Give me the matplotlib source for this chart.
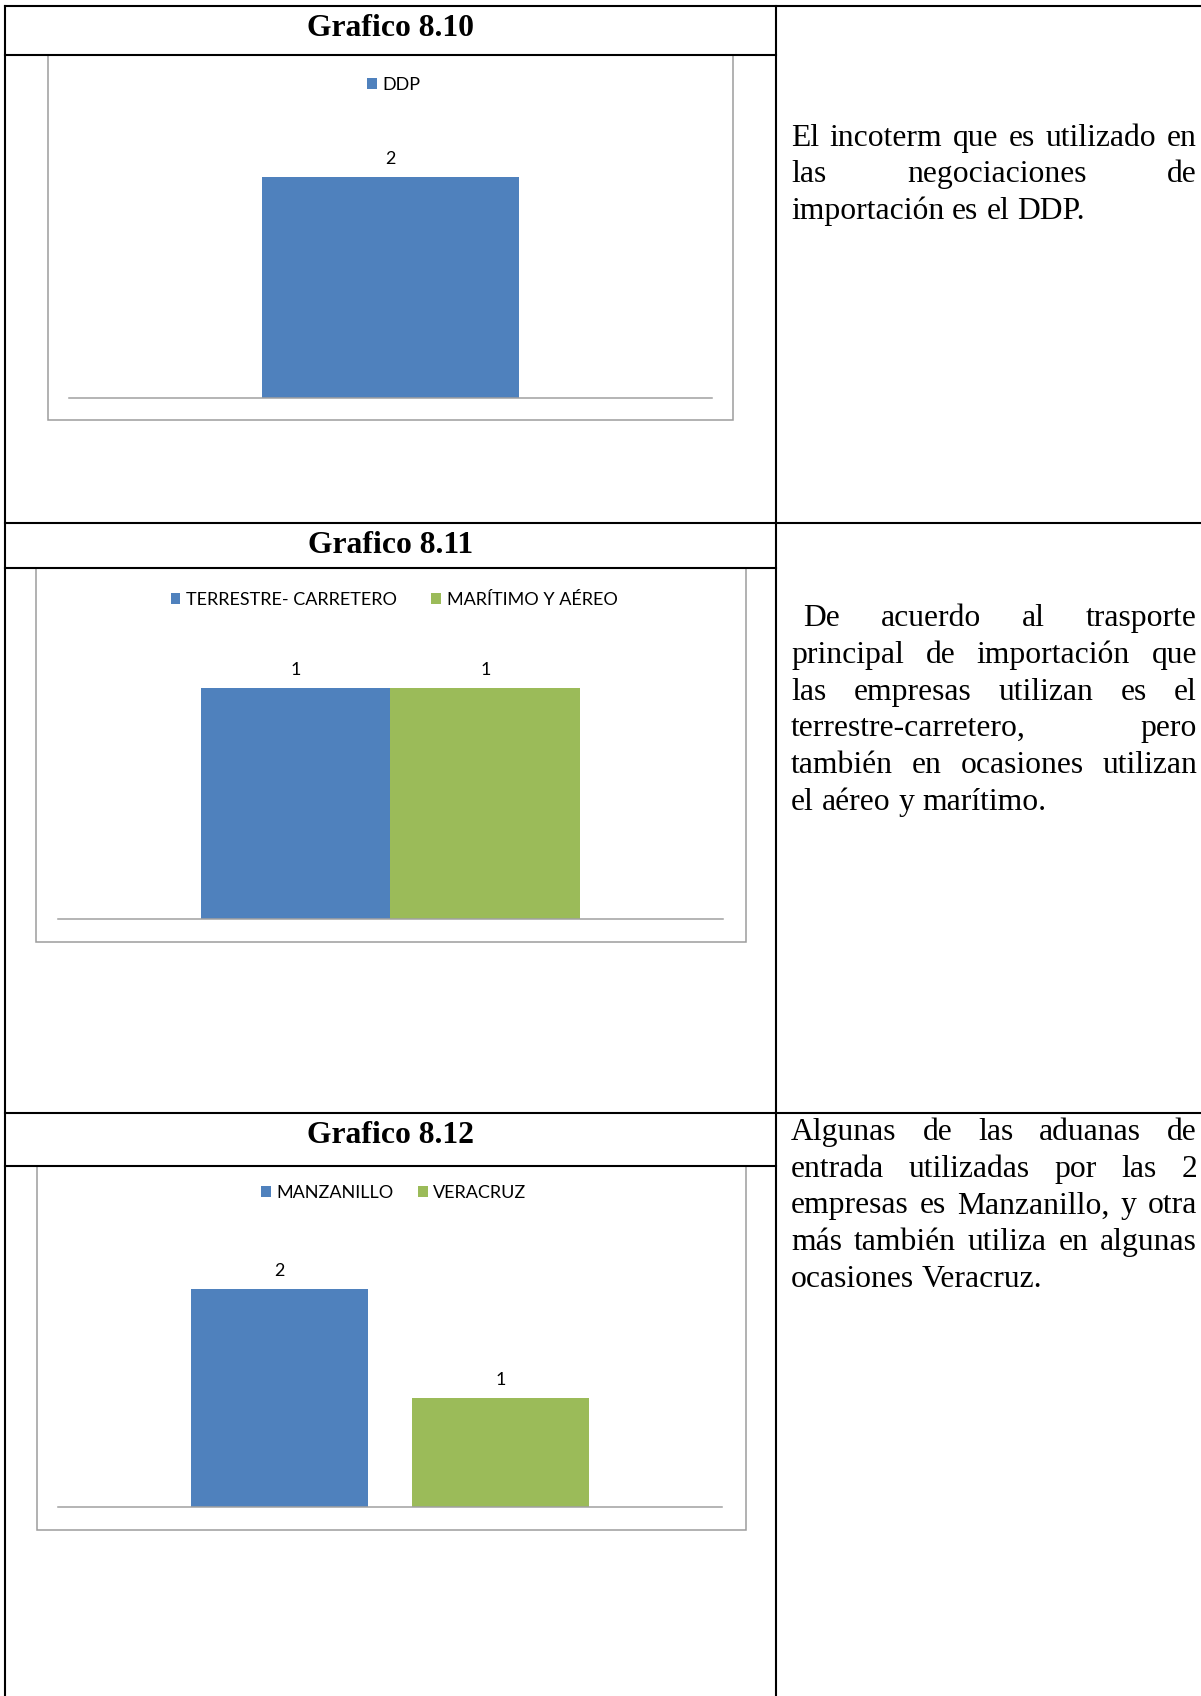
import matplotlib
matplotlib.use('Agg')
import matplotlib.pyplot as plt
from matplotlib.lines import Line2D
from matplotlib.patches import Rectangle

# chart data
titles = ['Grafico 8.10', 'Grafico 8.11', 'Grafico 8.12']
g810_labels = ['DDP']
g810_values = [2]
g811_labels = ['TERRESTRE- CARRETERO', 'MARÍTIMO Y AÉREO']
g811_values = [1, 1]
g812_labels = ['MANZANILLO', 'VERACRUZ']
g812_values = [2, 1]

# comments in the right column, one entry per printed line
p810 = ['El incoterm que es utilizado en',
        'las negociaciones de',
        'importación es el DDP.']
p811 = [' De acuerdo al trasporte',
        'principal de importación que',
        'las empresas utilizan es el',
        'terrestre-carretero, pero',
        'también en ocasiones utilizan',
        'el aéreo y marítimo.']
p812 = ['Algunas de las aduanas de',
        'entrada utilizadas por las 2',
        'empresas es Manzanillo, y otra',
        'más también utiliza en algunas',
        'ocasiones Veracruz.']

colors = ['#4F81BD', '#9BBB59']

W, H = 1201, 1696


def fx(x):
    return x / W


def fy(y):
    return 1 - y / H


fig = plt.figure(figsize=(W / 100, H / 100), dpi=100)
fig.patch.set_facecolor('white')
renderer = fig.canvas.get_renderer()

serif = 'Liberation Serif'
body_size = 22.8
chart_font = 'Lato'
chart_size = 13


def hline(y, x0, x1):
    fig.add_artist(Line2D([fx(x0), fx(x1)], [fy(y), fy(y)], color='black',
                          lw=1.5, zorder=10, solid_capstyle='projecting'))


def vline(x, y0, y1):
    fig.add_artist(Line2D([fx(x), fx(x)], [fy(y0), fy(y1)], color='black',
                          lw=1.5, zorder=10, solid_capstyle='projecting'))


# table grid
hline(5.7, 5, W + 5)
hline(523.2, 5, W + 5)
hline(1113.2, 5, W + 5)
for y in [54.5, 568.2, 1165.8]:
    hline(y, 5, 776)
vline(5, 5.7, H + 5)
vline(776, 5.7, H + 5)

# titles
for t, base in zip(titles, [35.7, 553, 1143]):
    fig.text(fx(390.5), fy(base), t, fontsize=body_size, family=serif,
             fontweight='bold', ha='center', va='baseline')


def word_width(word):
    t = fig.text(0, 0, word, fontsize=body_size, family=serif)
    w = t.get_window_extent(renderer).width
    t.remove()
    return w


def justified(lines, first_base, left=791, right=1197, step=36.7):
    space = word_width('a a') - word_width('aa')
    for i, line in enumerate(lines):
        base = first_base + i * step
        lead = len(line) - len(line.lstrip(' '))
        words = line.split()
        widths = [word_width(w) for w in words]
        x = left + lead * 12
        last = i == len(lines) - 1
        if last or len(words) == 1:
            gap = space
        else:
            gap = (right - x - sum(widths)) / (len(words) - 1)
        for w, wd in zip(words, widths):
            fig.text(fx(x), fy(base), w, fontsize=body_size, family=serif,
                     ha='left', va='baseline')
            x += wd + gap


justified(p810, 145.7)
justified(p811, 626.2)
justified(p812, 1140)


def chart(labels, values, frame, axbox, ymax, overlap, legend_xy,
          colspace):
    # chart area border
    fx0, fy0, fx1, fy1 = frame
    fig.add_artist(Rectangle((fx(fx0), fy(fy1)), fx(fx1) - fx(fx0),
                             fy(fy0) - fy(fy1), facecolor='white',
                             edgecolor='#9C9C9C', lw=1.1, zorder=-1))
    x0, y0, x1, y1 = axbox
    ax = fig.add_axes([fx(x0), fy(y1), fx(x1) - fx(x0), fy(y0) - fy(y1)])
    ax.patch.set_visible(False)

    n = len(values)
    sep = -overlap
    w = 1 / (n + (n - 1) * sep + 1.5)
    start = 0.5 - (n * w + (n - 1) * sep * w) / 2
    bars = []
    for i, (lab, v) in enumerate(zip(labels, values)):
        xc = start + w / 2 + i * w * (1 + sep)
        b = ax.bar(xc, v, width=w, color=colors[i], label=lab, zorder=1)
        bars.append(b)
        ax.annotate(str(v), (xc, v), xytext=(0, 9.7),
                    textcoords='offset points', ha='center', va='baseline',
                    fontsize=chart_size, family=chart_font, color='black')

    ax.set_xlim(0, 1)
    ax.set_ylim(0, ymax)
    for s in ['top', 'left', 'right']:
        ax.spines[s].set_visible(False)
    ax.spines['bottom'].set_color('#A0A0A0')
    ax.spines['bottom'].set_linewidth(1.1)
    ax.set_xticks([])
    ax.set_yticks([])

    ax.legend(bars, labels, loc='center', ncol=n, frameon=False,
              bbox_to_anchor=(fx(legend_xy[0]), fy(legend_xy[1])),
              bbox_transform=fig.transFigure,
              prop={'family': chart_font, 'size': chart_size},
              handlelength=0.55, handleheight=0.55, handletextpad=0.3,
              columnspacing=colspace, borderpad=0)
    return ax


chart(g810_labels, g810_values, (48, 54.5, 733, 419.5),
      (69, 121.75, 712, 398), 2.5, 0, (393.5, 85), 1.9)
chart(g811_labels, g811_values, (36, 568.2, 746, 942.3),
      (58, 642, 723, 919), 1.2, 0, (394, 600), 1.9)
chart(g812_labels, g812_values, (37, 1165.8, 746, 1530),
      (58, 1234.5, 722, 1507), 2.5, -0.25, (394, 1193), 1.33)

fig.savefig('out.png', dpi=100)
